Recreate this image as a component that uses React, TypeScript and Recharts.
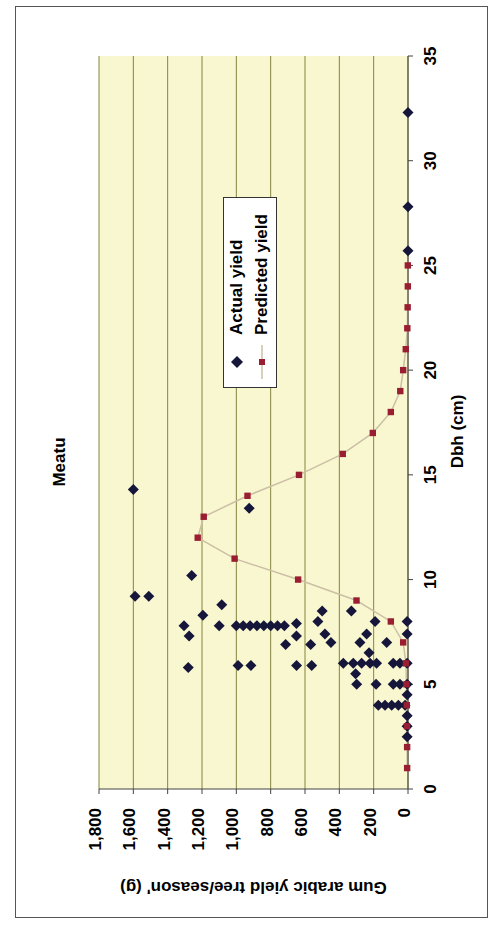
import React from 'react';
import { ComposedChart, Scatter, Line, XAxis, YAxis, CartesianGrid, Legend, Label } from 'recharts';

// ---- data ----
const actualDbh = [
  14.3, 13.4, 10.2, 9.2, 9.2, 8.8, 8.3, 7.8, 7.8,
  7.8, 7.8, 7.8, 7.8, 7.8, 7.8, 7.8, 7.8,
  7.3, 5.8, 5.9, 5.9, 7.9, 7.3, 6.9, 6.9, 5.9, 5.9,
  8.5, 8.0, 7.4, 7.0, 8.5, 8.0, 7.4, 7.0, 7.0, 6.5,
  6.0, 6.0, 6.0, 6.0, 6.0, 5.5, 5.0, 5.0,
  6.0, 6.0, 6.0, 8.0, 7.4, 5.0, 5.0, 5.0,
  4.0, 4.0, 4.0, 4.0, 4.0, 4.5, 3.5, 3.0, 2.5,
  25.7, 27.8, 32.3,
];
const actualYield = [
  1600, 925, 1260, 1590, 1510, 1085, 1195, 1305, 1100,
  1000, 960, 920, 880, 840, 800, 760, 720,
  1275, 1280, 990, 915, 650, 650, 713, 567, 649, 561,
  500, 525, 484, 449, 330, 192, 241, 280, 124, 227,
  377, 319, 270, 221, 183, 305, 299, 186,
  86, 47, 5, 5, 5, 86, 47, 5,
  173, 134, 95, 56, 17, 5, 5, 5, 5,
  0, 0, 0,
];
const predictedDbh = [1, 2, 3, 4, 5, 6, 7, 8, 9, 10, 11, 12, 13, 14, 15, 16, 17, 18, 19, 20, 21, 22, 23, 24, 25];
const predictedYield = [5, 5, 6, 7, 9, 12, 28, 100, 300, 640, 1010, 1225, 1190, 935, 635, 380, 205, 100, 45, 28, 13, 4, 2, 1, 1];
const dbhTicks = [0, 5, 10, 15, 20, 25, 30, 35];
const yieldTicks = [0, 200, 400, 600, 800, 1000, 1200, 1400, 1600, 1800];
const seriesNames = ['Actual yield', 'Predicted yield'];
const chartTitle = 'Meatu';
const xTitle = 'Dbh (cm)';
const yTitle = "Gum arabic yield tree/season' (g)";

const actualData = actualDbh.map((d, i) => ({ dbh: d, yield: actualYield[i] }));
const predictedData = predictedDbh.map((d, i) => ({ dbh: d, yield: predictedYield[i] }));

const FONT = '"Liberation Sans", Arial, sans-serif';
const DIAMOND_COLOR = '#15163A';
const SQUARE_COLOR = '#9A1E32';
const LINE_COLOR = '#CBBFA6';

const Diamond = (props: any) => {
  const { cx, cy } = props;
  if (cx == null || cy == null) return null;
  const r = 5.5;
  return (
    <polygon
      points={`${cx},${cy - r} ${cx + r},${cy} ${cx},${cy + r} ${cx - r},${cy}`}
      fill={DIAMOND_COLOR}
    />
  );
};

const SquareDot = (props: any) => {
  const { cx, cy, index } = props;
  if (cx == null || cy == null) return null;
  const s = 3.2;
  return <rect key={`sq-${index}`} x={cx - s} y={cy - s} width={2 * s} height={2 * s} fill={SQUARE_COLOR} />;
};

const LegendBox = () => (
  <div
    style={{
      width: 191,
      height: 54,
      border: '1px solid #333',
      background: '#fff',
      boxSizing: 'border-box',
      fontFamily: FONT,
      fontWeight: 'bold',
      fontSize: 17,
      color: '#000',
    }}
  >
    <div style={{ display: 'flex', alignItems: 'center', height: 25 }}>
      <svg width={52} height={25}>
        <polygon points="25,7 31,13 25,19 19,13" fill={DIAMOND_COLOR} />
      </svg>
      <span>{seriesNames[0]}</span>
    </div>
    <div style={{ display: 'flex', alignItems: 'center', height: 26 }}>
      <svg width={52} height={26}>
        <line x1={8} y1={13} x2={42} y2={13} stroke={LINE_COLOR} strokeWidth={1.5} />
        <rect x={22} y={10} width={6} height={6} fill={SQUARE_COLOR} />
      </svg>
      <span>{seriesNames[1]}</span>
    </div>
  </div>
);

const tickStyle = { fill: '#000', fontSize: 17, fontWeight: 'bold', fontFamily: FONT } as any;
const titleStyle = { fill: '#000', fontSize: 17, fontWeight: 'bold', fontFamily: FONT } as any;

export default function App() {
  return (
    <div style={{ position: 'fixed', left: 0, top: 0, width: 491, height: 929, overflow: 'hidden', background: '#fff' }}>
      <div
        style={{
          position: 'absolute',
          width: 929,
          height: 491,
          left: -219,
          top: 219,
          transform: 'rotate(-90deg)',
          background: '#fff',
        }}
      >
        <div
          style={{
            position: 'absolute',
            left: 11,
            top: 15,
            width: 912,
            height: 473,
            border: '1px solid #555',
            boxSizing: 'border-box',
            pointerEvents: 'none',
          }}
        />
        <div
          style={{
            position: 'absolute',
            left: 0,
            width: 934,
            top: 50,
            textAlign: 'center',
            fontFamily: FONT,
            fontWeight: 'bold',
            fontSize: 17,
            lineHeight: '20px',
            color: '#000',
          }}
        >
          {chartTitle}
        </div>
        <ComposedChart
          width={929}
          height={491}
          margin={{ top: 99, right: 56, bottom: 33, left: 30 }}
        >
          <CartesianGrid vertical={false} stroke="#86843F" strokeWidth={1} fill="#F9F7D0" fillOpacity={1} />
          <XAxis
            type="number"
            dataKey="dbh"
            domain={[0, 35]}
            ticks={dbhTicks}
            interval={0}
            height={50}
            tick={tickStyle}
            tickSize={5}
            tickMargin={11}
            axisLine={{ stroke: '#444' }}
            tickLine={{ stroke: '#444' }}
            allowDataOverflow
          >
            <Label value={xTitle} position="insideTop" offset={43} dx={-9} style={titleStyle} />
          </XAxis>
          <YAxis
            type="number"
            dataKey="yield"
            domain={[0, 1800]}
            ticks={yieldTicks}
            interval={0}
            width={110}
            tick={{ ...tickStyle, dy: -4 }}
            tickSize={5}
            tickMargin={14}
            tickFormatter={(v: number) => v.toLocaleString('en-US')}
            axisLine={{ stroke: '#444' }}
            tickLine={{ stroke: '#444' }}
          >
            <Label
              value={yTitle}
              angle={-90}
              position="insideLeft"
              offset={11}
              style={{ ...titleStyle, textAnchor: 'middle' }}
            />
          </YAxis>
          <Legend
            layout="vertical"
            align="center"
            verticalAlign="middle"
            content={() => <LegendBox />}
            wrapperStyle={{ left: 541, top: 223, width: 191, height: 54 }}
          />
          <Scatter
            name={seriesNames[0]}
            data={actualData}
            dataKey="yield"
            shape={Diamond}
            isAnimationActive={false}
          />
          <Line
            name={seriesNames[1]}
            data={predictedData}
            dataKey="yield"
            type="linear"
            stroke={LINE_COLOR}
            strokeWidth={1.5}
            dot={SquareDot}
            activeDot={false}
            isAnimationActive={false}
          />
        </ComposedChart>
      </div>
    </div>
  );
}
